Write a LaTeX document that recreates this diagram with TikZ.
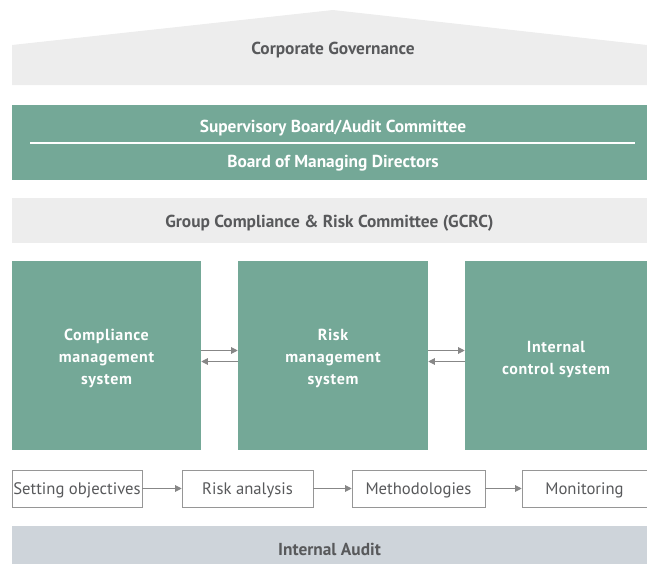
\documentclass[tikz,border=0pt]{standalone}
\usepackage{fontspec}
\setmainfont{PT Sans}
\usetikzlibrary{arrows.meta,positioning,fit,calc}
\definecolor{govgreen}{RGB}{116, 168, 151}
\definecolor{govgrey}{RGB}{237, 237, 237}
\definecolor{auditgrey}{RGB}{206, 212, 218}
\definecolor{inkgrey}{RGB}{88, 89, 91}
\definecolor{arrowgrey}{RGB}{135, 135, 135}
\definecolor{framegrey}{RGB}{150, 150, 150}
\tikzset{
  band/.style={inner sep=0pt, font=\bfseries\fontsize{13}{15}\selectfont},
  greenband/.style={band, fill=govgreen, text=white},
  greyband/.style={band, fill=govgrey, text=inkgrey},
  label text/.style={font=\bfseries\fontsize{13}{15}\selectfont, yshift=-2pt},
  pillar/.style={band, fill=govgreen, text=white, align=center,
    font=\bfseries\fontsize{12}{16.5}\selectfont\addfontfeatures{LetterSpace=4}},
  stepbox/.style={inner sep=0pt, draw=framegrey, fill=white, text=inkgrey,
    font=\fontsize{12.5}{14}\selectfont},
  flow/.style={-{Triangle[length=5pt, width=5pt]}, arrowgrey, line width=0.8pt}
}
\begin{document}
\begin{tikzpicture}[x=0.75pt, y=-0.75pt]
  \useasboundingbox (0,0) rectangle (647,564);
  % corporate governance roof
  \fill[govgrey] (12,85) -- (12,45) -- (333,10) -- (647,45) -- (647,85) -- cycle;
  \node[label text, text=inkgrey] (gov) at (333,47) {Corporate Governance};
  % boards
  \node[greenband, fit={(12,105) (647,180)}] (boards) {};
  \node[label text, text=white] (sb) at (333,125) {Supervisory Board/Audit Committee};
  \node[label text, text=white] (bmd) at (333,161) {Board of Managing Directors};
  \draw[white, line width=0.9pt] (30,143) -- (635,143);
  % GCRC
  \node[greyband, fit={(12,198) (647,243)}] (gcrc) {};
  \node[label text, text=inkgrey] at (gcrc.center) {Group Compliance \& Risk Committee (GCRC)};
  % pillars
  \node[pillar, fit={(12,261) (201,450)}] (cms) {};
  \node[pillar, fit={(238,261) (428,450)}] (rms) {};
  \node[pillar, fit={(465,261) (647,450)}] (ics) {};
  \node[pillar, fill=none, yshift=-2.5pt] at (cms.center) {Compliance\\management\\system};
  \node[pillar, fill=none, yshift=-2.5pt] at (rms.center) {Risk\\management\\system};
  \node[pillar, fill=none, yshift=-3pt] at (ics.center) {Internal\\control system};
  \draw[flow] ([shift={(0,-5)}]cms.east) -- ([shift={(0,-5)}]rms.west);
  \draw[flow] ([shift={(0,6)}]rms.west) -- ([shift={(0,6)}]cms.east);
  \draw[flow] ([shift={(0,-5)}]rms.east) -- ([shift={(0,-5)}]ics.west);
  \draw[flow] ([shift={(0,6)}]ics.west) -- ([shift={(0,6)}]rms.east);
  % process steps
  \node[stepbox, fit={(12,470) (142,507)}] (s1) {};
  \node[stepbox, fit={(182,470) (313,507)}] (s2) {};
  \node[stepbox, fit={(352,470) (485,507)}] (s3) {};
  \node[stepbox, fit={(522,470) (647,507)}] (s4) {};
  \node[stepbox, draw=none, fill=none, yshift=-1.5pt] at (s1.center) {Setting objectives};
  \node[stepbox, draw=none, fill=none, yshift=-1.5pt] at (s2.center) {Risk analysis};
  \node[stepbox, draw=none, fill=none, yshift=-1.5pt] at (s3.center) {Methodologies};
  \node[stepbox, draw=none, fill=none, yshift=-1.5pt] at (s4.center) {Monitoring};
  \draw[flow] (s1) -- (s2);
  \draw[flow] (s2) -- (s3);
  \draw[flow] (s3) -- (s4);
  % internal audit
  \node[band, fill=auditgrey, fit={(12,526) (647,564)}] (audit) {};
  \node[label text, text=inkgrey, yshift=-1pt] at (audit.center) {Internal Audit};
\end{tikzpicture}
\end{document}
